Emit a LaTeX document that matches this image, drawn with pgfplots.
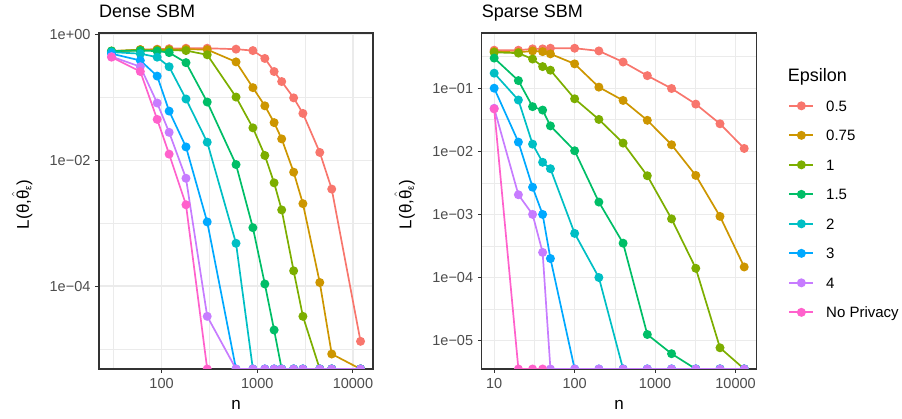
\documentclass[border=0pt]{standalone}
\usepackage{fontspec}
\setmainfont{Liberation Sans}
\usepackage{pgfplots}
\pgfplotsset{compat=1.18}
\definecolor{cA}{HTML}{F8766D}
\definecolor{cB}{HTML}{CD9600}
\definecolor{cC}{HTML}{7CAE00}
\definecolor{cD}{HTML}{00BE67}
\definecolor{cE}{HTML}{00BFC4}
\definecolor{cF}{HTML}{00A9FF}
\definecolor{cG}{HTML}{C77CFF}
\definecolor{cH}{HTML}{FF61CC}
\definecolor{g20}{HTML}{333333}
\definecolor{g30}{HTML}{4D4D4D}
\definecolor{g92}{HTML}{EBEBEB}
\pgfplotsset{
  every axis/.append style={
    scale only axis, height=336pt,
    axis line style={g20, line width=1.1pt},
    tick align=outside, xtick pos=bottom, ytick pos=left,
    major tick length=3.9pt, minor tick length=0pt,
    every tick/.style={g20, line width=1pt},
    xmajorgrids, ymajorgrids, xminorgrids, yminorgrids,
    major grid style={g92, line width=1.2pt},
    minor grid style={g92, line width=0.6pt},
    tick label style={font=\fontsize{14.5}{16}\selectfont, text=g30, inner sep=0pt, text height=10.4pt, text depth=0pt},
    xticklabel shift=5pt, yticklabel shift=4.5pt,
    clip marker paths=true,
    title style={anchor=base west, at={(0,1)}, yshift=9pt, font=\fontsize{18}{20}\selectfont, inner sep=0pt},
    label style={font=\fontsize{17}{19}\selectfont},
    xlabel style={at={(axis description cs:0.5,-0.122)}, anchor=base, inner sep=0pt},
    ylabel style={at={(axis description cs:-0.256,0.49)}, anchor=base, inner sep=0pt},
  },
  every axis plot/.append style={line width=1.7pt, mark=*, mark size=3.6pt},
  legend image code/.code={\draw[mark repeat=2,mark phase=2,#1] plot coordinates {(0pt,0pt)(12pt,0pt)(24pt,0pt)};},
}
\newcommand{\Lab}{L(θ,$\hat{\mbox{θ}}_{\mbox{\fontsize{10}{10}\selectfont ε}}$)}
\begin{document}
\begin{tikzpicture}[x=1pt,y=1pt]
\path[use as bounding box] (0,0) rectangle (902,419);
% ---------------- Dense SBM ----------------
\begin{axis}[xmode=log, ymode=log, at={(99pt,50pt)}, anchor=south west, width=274pt,
  title={Dense SBM}, xlabel={n}, ylabel={\Lab},
  xmin=22.2, xmax=16200, ymin=4.79e-6, ymax=1.067,
  xtick={100,1000,10000}, xticklabels={100,1000,10000},
  minor xtick={31.62,316.2,3162},
  ytick={1,0.01,0.0001}, yticklabels={1e+00,1e−02,1e−04},
  minor ytick={0.1,0.001,0.00001},
]
\addplot[cA] coordinates {(30,0.53)(60,0.58)(90,0.59)(120,0.60)(180,0.61)(300,0.61)(600,0.59)(900,0.56)(1200,0.42)(1500,0.26)(1800,0.18)(2400,0.099)(3000,0.056)(4500,0.0134)(6000,0.0035)(12000,1.32e-5)};
\addplot[cB] coordinates {(30,0.55)(60,0.58)(90,0.58)(120,0.58)(180,0.59)(300,0.58)(600,0.37)(900,0.144)(1200,0.074)(1500,0.040)(1800,0.022)(2400,0.0065)(3000,0.00205)(4500,1.14e-4)(6000,8.3e-6)(12000,4.79e-6)};
\addplot[cC] coordinates {(30,0.55)(60,0.57)(90,0.57)(120,0.57)(180,0.56)(300,0.48)(600,0.102)(900,0.033)(1200,0.012)(1500,0.0044)(1800,0.00163)(2400,1.75e-4)(3000,3.3e-5)(4500,4.79e-6)(6000,4.79e-6)(12000,4.79e-6)};
\addplot[cD] coordinates {(30,0.55)(60,0.56)(90,0.55)(120,0.52)(180,0.36)(300,0.085)(600,0.0086)(900,8.5e-4)(1200,1.08e-4)(1500,2.0e-5)(1800,4.79e-6)(2400,4.79e-6)(3000,4.79e-6)(4500,4.79e-6)(6000,4.79e-6)(12000,4.79e-6)};
\addplot[cE] coordinates {(30,0.53)(60,0.50)(90,0.44)(120,0.31)(180,0.095)(300,0.0195)(600,4.8e-4)(900,4.79e-6)(1200,4.79e-6)(1500,4.79e-6)(1800,4.79e-6)(2400,4.79e-6)(3000,4.79e-6)(4500,4.79e-6)(6000,4.79e-6)(12000,4.79e-6)};
\addplot[cF] coordinates {(30,0.50)(60,0.39)(90,0.22)(120,0.061)(180,0.0164)(300,0.00105)(600,4.79e-6)(900,4.79e-6)(1200,4.79e-6)(1500,4.79e-6)(1800,4.79e-6)(2400,4.79e-6)(3000,4.79e-6)(4500,4.79e-6)(6000,4.79e-6)(12000,4.79e-6)};
\addplot[cG] coordinates {(30,0.45)(60,0.31)(90,0.082)(120,0.028)(180,0.0052)(300,3.3e-5)(600,4.79e-6)(900,4.79e-6)(1200,4.79e-6)(1500,4.79e-6)(1800,4.79e-6)(2400,4.79e-6)(3000,4.79e-6)(4500,4.79e-6)(6000,4.79e-6)(12000,4.79e-6)};
\addplot[cH] coordinates {(30,0.44)(60,0.26)(90,0.045)(120,0.0126)(180,0.00197)(300,4.79e-6)};
\end{axis}
% ---------------- Sparse SBM ----------------
\begin{axis}[xmode=log, ymode=log, at={(481.7pt,50pt)}, anchor=south west, width=275pt,
  title={Sparse SBM}, xlabel={n}, ylabel={\Lab},
  xmin=7.0, xmax=18300, ymin=3.55e-6, ymax=0.75,
  xtick={10,100,1000,10000}, xticklabels={10,100,1000,10000},
  minor xtick={31.62,316.2,3162},
  ytick={0.1,0.01,0.001,0.0001,0.00001}, yticklabels={1e−01,1e−02,1e−03,1e−04,1e−05},
  minor ytick={0.3162,0.03162,0.003162,0.0003162,0.00003162},
  legend style={draw=none, fill=none, inner sep=0pt, at={(axis description cs:1.115,0.896)}, anchor=north west,
    font=\fontsize{15}{17}\selectfont, row sep=13.1pt, column sep=12pt,
    nodes={inner sep=0pt, text height=13.4pt, text depth=3pt}},
  legend cell align=left,
]
\addlegendimage{empty legend}
\addlegendentry{\hspace*{-38.3pt}\fontsize{18}{20}\selectfont Epsilon}
\addplot[cA] coordinates {(10,0.40)(20,0.40)(30,0.42)(40,0.42)(50,0.43)(100,0.43)(200,0.39)(400,0.26)(800,0.158)(1600,0.099)(3200,0.056)(6400,0.0273)(12800,0.0111)};
\addlegendentry{0.5}
\addplot[cB] coordinates {(10,0.38)(20,0.37)(30,0.39)(40,0.38)(50,0.35)(100,0.243)(200,0.104)(400,0.064)(800,0.031)(1600,0.0127)(3200,0.00415)(6400,9.3e-4)(12800,1.47e-4)};
\addlegendentry{0.75}
\addplot[cC] coordinates {(10,0.37)(20,0.36)(30,0.29)(40,0.22)(50,0.193)(100,0.068)(200,0.032)(400,0.0135)(800,0.0041)(1600,8.5e-4)(3200,1.4e-4)(6400,7.7e-6)(12800,3.55e-6)};
\addlegendentry{1}
\addplot[cD] coordinates {(10,0.30)(20,0.132)(30,0.051)(40,0.045)(50,0.0253)(100,0.0102)(200,0.00157)(400,3.5e-4)(800,1.25e-5)(1600,6.2e-6)(3200,3.55e-6)(6400,3.55e-6)(12800,3.55e-6)};
\addlegendentry{1.5}
\addplot[cE] coordinates {(10,0.173)(20,0.065)(30,0.013)(40,0.0067)(50,0.0053)(100,5.0e-4)(200,1.0e-4)(400,3.55e-6)(800,3.55e-6)(1600,3.55e-6)(3200,3.55e-6)(6400,3.55e-6)(12800,3.55e-6)};
\addlegendentry{2}
\addplot[cF] coordinates {(10,0.1)(20,0.014)(30,0.0027)(40,0.001)(50,2.0e-4)(100,3.55e-6)(200,3.55e-6)(400,3.55e-6)(800,3.55e-6)(1600,3.55e-6)(3200,3.55e-6)(6400,3.55e-6)(12800,3.55e-6)};
\addlegendentry{3}
\addplot[cG] coordinates {(10,0.048)(20,0.00205)(30,0.001)(40,2.5e-4)(50,3.55e-6)(100,3.55e-6)(200,3.55e-6)(400,3.55e-6)(800,3.55e-6)(1600,3.55e-6)(3200,3.55e-6)(6400,3.55e-6)(12800,3.55e-6)};
\addlegendentry{4}
\addplot[cH] coordinates {(10,0.047)(20,3.55e-6)(30,3.55e-6)(40,3.55e-6)};
\addlegendentry{No Privacy}
\end{axis}
\end{tikzpicture}
\end{document}
